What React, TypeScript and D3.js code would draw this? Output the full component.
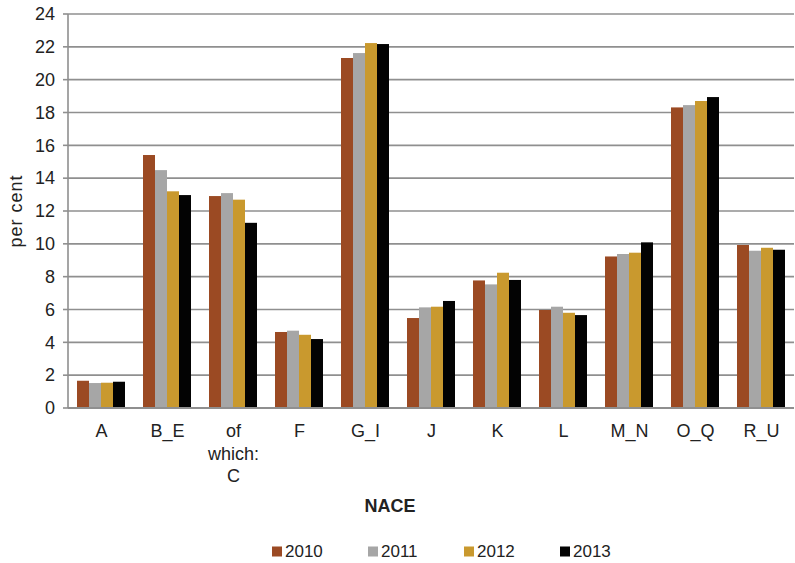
import React from "react";
import * as d3 from "d3";

const categories = ["A", "B_E", "of which: C", "F", "G_I", "J", "K", "L", "M_N", "O_Q", "R_U"];
const categoryLines = [["A"], ["B_E"], ["of", "which:", "C"], ["F"], ["G_I"], ["J"], ["K"], ["L"], ["M_N"], ["O_Q"], ["R_U"]];
const seriesNames = ["2010", "2011", "2012", "2013"];
const values2010 = [1.66, 15.41, 12.91, 4.63, 21.32, 5.48, 7.77, 5.97, 9.23, 18.31, 9.93];
const values2011 = [1.52, 14.49, 13.09, 4.71, 21.62, 6.13, 7.53, 6.17, 9.38, 18.45, 9.58];
const values2012 = [1.54, 13.2, 12.69, 4.46, 22.23, 6.17, 8.24, 5.8, 9.46, 18.7, 9.76];
const values2013 = [1.6, 12.97, 11.28, 4.2, 22.17, 6.52, 7.8, 5.66, 10.09, 18.94, 9.64];
const yTicks = [0, 2, 4, 6, 8, 10, 12, 14, 16, 18, 20, 22, 24];
const colors = ["#9B4A23", "#A6A6A6", "#C9992E", "#030303"];

const W = 795;
const H = 563;
const left = 68;
const right = 794;
const top = 14;
const bottom = 408;
const font = "'Liberation Sans', Arial, sans-serif";

export default function App() {
  const series = [values2010, values2011, values2012, values2013];
  const x = d3
    .scaleBand<string>()
    .domain(categories)
    .range([left, right])
    .paddingInner(18 / 66)
    .paddingOuter(9 / 66);
  const xs = d3
    .scaleBand<string>()
    .domain(seriesNames)
    .range([0, x.bandwidth()]);
  const y = d3.scaleLinear().domain([0, 24]).range([bottom, top]);

  return (
    <svg
      width={W}
      height={H}
      style={{ position: "absolute", left: 0, top: 0, background: "#fff" }}
      fontFamily={font}
    >
      {yTicks.map((t) => (
        <g key={t}>
          {t > 0 && (
            <line x1={left} x2={right} y1={y(t)} y2={y(t)} stroke="#8f8f8f" strokeWidth={1.6} />
          )}
          <line x1={left - 5} x2={left} y1={y(t)} y2={y(t)} stroke="#8f8f8f" strokeWidth={1.6} />
          <text x={55} y={y(t)} dy="0.35em" textAnchor="end" fontSize={18} fill="#222">
            {t}
          </text>
        </g>
      ))}
      {categories.map((c, i) => (
        <g key={c}>
          {series.map((vals, s) => (
            <rect
              key={s}
              x={(x(c) as number) + (xs(seriesNames[s]) as number)}
              y={y(vals[i])}
              width={xs.bandwidth()}
              height={y(0) - y(vals[i])}
              fill={colors[s]}
            />
          ))}
          {categoryLines[i].map((ln, k) => (
            <text
              key={k}
              x={(x(c) as number) + x.bandwidth() / 2 + 0.5}
              y={437 + k * 22.5}
              textAnchor="middle"
              fontSize={18}
              fill="#222"
            >
              {ln}
            </text>
          ))}
        </g>
      ))}
      <line x1={left} x2={left} y1={top} y2={bottom} stroke="#8f8f8f" strokeWidth={1.6} />
      <line x1={left} x2={right} y1={bottom} y2={bottom} stroke="#8f8f8f" strokeWidth={1.8} />
      <text
        transform={`translate(22,${(top + bottom) / 2}) rotate(-90)`}
        textAnchor="middle"
        fontSize={18}
        letterSpacing={1}
        fill="#222"
      >
        per cent
      </text>
      <text x={390} y={512} textAnchor="middle" fontSize={18} fontWeight="bold" fill="#222">
        NACE
      </text>
      {seriesNames.map((n, s) => (
        <g key={n} transform={`translate(${272 + s * 96},0)`}>
          <rect x={0} y={546.5} width={10} height={10} fill={colors[s]} />
          <text x={13} y={557} fontSize={17} fill="#222">
            {n}
          </text>
        </g>
      ))}
    </svg>
  );
}
